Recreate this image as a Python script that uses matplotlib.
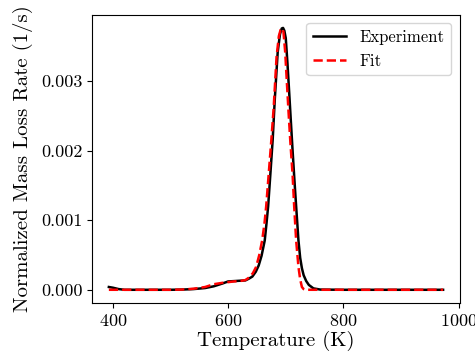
import matplotlib
matplotlib.use('Agg')
from matplotlib import pyplot as plt

plt.rcParams['font.family'] = 'serif'
plt.rcParams['font.serif'] = ['cmr10']
plt.rcParams['mathtext.fontset'] = 'cm'
plt.rcParams['axes.formatter.use_mathtext'] = True

# experiment curve (temperature in K, normalized mass loss rate in 1/s)
exp_T = [393, 400, 410, 420, 450, 500, 520, 540, 560, 575, 590, 600, 610, 620,
         630, 636, 642, 648, 653, 658, 663.5, 666.5, 669.4, 673.4, 677.3, 681,
         686, 690, 693, 695.3, 697.5, 700, 703, 706, 709, 712, 715, 718, 722,
         725, 728, 731, 735.5, 740, 748, 760, 800, 900, 973]
exp_rate = [0.00004, 0.00003, 0.00001, 0.0, 0.0, 0.0, 0.000003, 0.00001,
            0.000025, 0.00005, 0.00009, 0.00012, 0.000125, 0.00013, 0.000135,
            0.00016, 0.00019, 0.00026, 0.00035, 0.00049, 0.00071, 0.00095,
            0.0012, 0.00168, 0.00216, 0.00275, 0.00342, 0.00368, 0.00376,
            0.003768, 0.00373, 0.00362, 0.00325, 0.00283, 0.0024, 0.00198,
            0.00158, 0.0012, 0.00071, 0.00046, 0.00031, 0.00021, 0.000125,
            0.00007, 0.00002, 0.000003, 0.0, 0.0, 0.0]

# fitted curve
fit_T = [393, 450, 500, 520, 540, 560, 575, 590, 600, 610, 620, 630, 637, 643,
         648.6, 654, 659, 663, 666, 670.5, 675, 679, 684, 688, 691, 693.8, 696,
         699, 702, 705, 708, 711.8, 714.6, 718, 722, 725, 728, 731, 734, 740,
         800, 900, 973]
fit_rate = [0.0, 0.0, 0.0, 0.000003, 0.000015, 0.00004, 0.00008, 0.0001,
            0.00011, 0.00012, 0.000125, 0.00014, 0.00018, 0.00024, 0.00033,
            0.0005, 0.00071, 0.00095, 0.0012, 0.00168, 0.00216, 0.00262,
            0.00335, 0.00365, 0.00374, 0.00376, 0.00371, 0.00342, 0.00297,
            0.00253, 0.00212, 0.00166, 0.0012, 0.00071, 0.00033, 0.00015,
            0.00004, 0.00001, 0.0, 0.0, 0.0, 0.0, 0.0]

fig = plt.figure(figsize=(4.75, 3.53), dpi=100)
ax = fig.add_axes([0.194, 0.142, 0.774, 0.816])
ax.plot(exp_T, exp_rate, 'k-', linewidth=1.8, label='Experiment')
ax.plot(fit_T, fit_rate, 'r--', linewidth=1.8, label='Fit')
ax.set_xlabel('Temperature (K)', fontsize=15, labelpad=2)
ax.set_ylabel('Normalized Mass Loss Rate (1/s)', fontsize=15, labelpad=6)
ax.set_xticks([400, 600, 800, 1000])
ax.set_yticks([0.0, 0.001, 0.002, 0.003])
ax.set_yticklabels(['0.000', '0.001', '0.002', '0.003'])
ax.tick_params(labelsize=13)
ax.legend(loc='upper right', fontsize=12)

plt.savefig('out.png', dpi=100)
plt.close()
